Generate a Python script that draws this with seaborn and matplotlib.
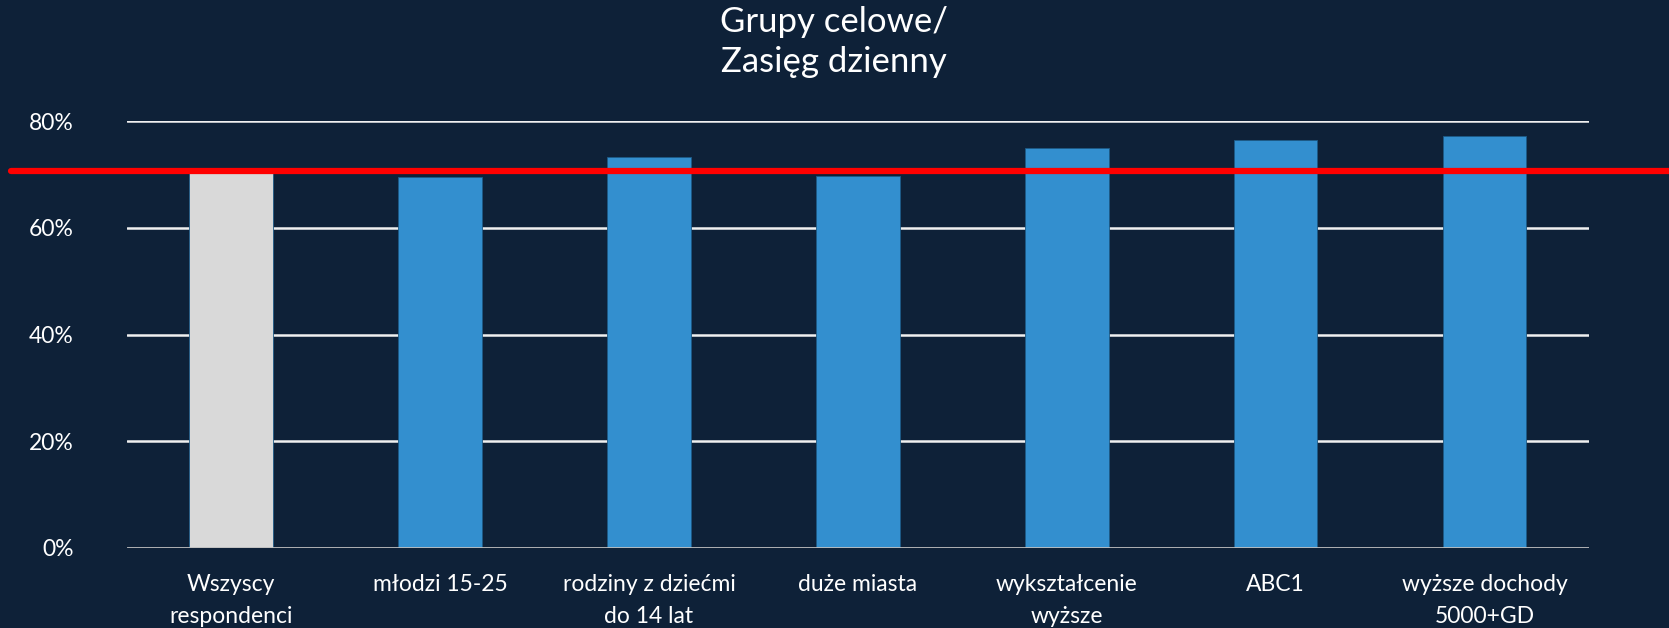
import pandas as pd
import seaborn as sns
import matplotlib.pyplot as plt
from matplotlib.ticker import PercentFormatter

categories = [
    "Wszyscy\nrespondenci",
    "młodzi 15-25",
    "rodziny z dziećmi\ndo 14 lat",
    "duże miasta",
    "wykształcenie\nwyższe",
    "ABC1",
    "wyższe dochody\n5000+GD",
]
reach = [0.707, 0.695, 0.733, 0.697, 0.750, 0.765, 0.772]
bar_colors = ["#d9d9d9", "#338fcf", "#338fcf", "#338fcf", "#338fcf", "#338fcf", "#338fcf"]
reference_level = 0.707
y_ticks = [0.0, 0.2, 0.4, 0.6, 0.8]

BG = "#0e2138"

sns.set_theme(style="dark")
plt.rcParams["font.family"] = ["Lato", "DejaVu Sans"]

df = pd.DataFrame({"group": categories, "reach": reach})

fig = plt.figure(figsize=(16.69, 6.28), dpi=100, facecolor=BG)
ax = fig.add_axes([0.0759, 0.1274, 0.8762, 0.6794])
ax.set_facecolor(BG)

sns.barplot(
    data=df,
    x="group",
    y="reach",
    hue="group",
    palette=bar_colors,
    saturation=1,
    legend=False,
    width=0.4,
    edgecolor="#1d5a86",
    linewidth=0.6,
    ax=ax,
)

# horizontal gridlines
for t in y_ticks[1:]:
    ax.axhline(t, color="#f0f0f0", linewidth=1.8, zorder=0)
ax.axhline(0, color="#bfbfbf", linewidth=2, zorder=3)

# red reference line sticking out past the plot area
ax.axhline(reference_level, xmin=-0.079, xmax=1.06, color="#ff0000",
           linewidth=4.5, clip_on=False, zorder=4)

ax.set_ylim(0, 0.8)
ax.set_yticks(y_ticks)
ax.yaxis.set_major_formatter(PercentFormatter(1.0, decimals=0))
ax.tick_params(axis="y", colors="white", labelsize=16.5, length=0, pad=38)
ax.tick_params(axis="x", colors="white", labelsize=16.5, length=0, pad=19)
for lab in ax.get_xticklabels():
    lab.set_linespacing(1.65)

ax.set_xlabel("")
ax.set_ylabel("")
sns.despine(ax=ax, left=True, bottom=True)
ax.grid(False)

fig.text(0.4995, 0.99, "Grupy celowe/\nZasięg dzienny", color="white",
         fontsize=25, fontweight="normal", ha="center", va="top",
         linespacing=1.3)

fig.savefig("out.png", dpi=100, facecolor=BG)
